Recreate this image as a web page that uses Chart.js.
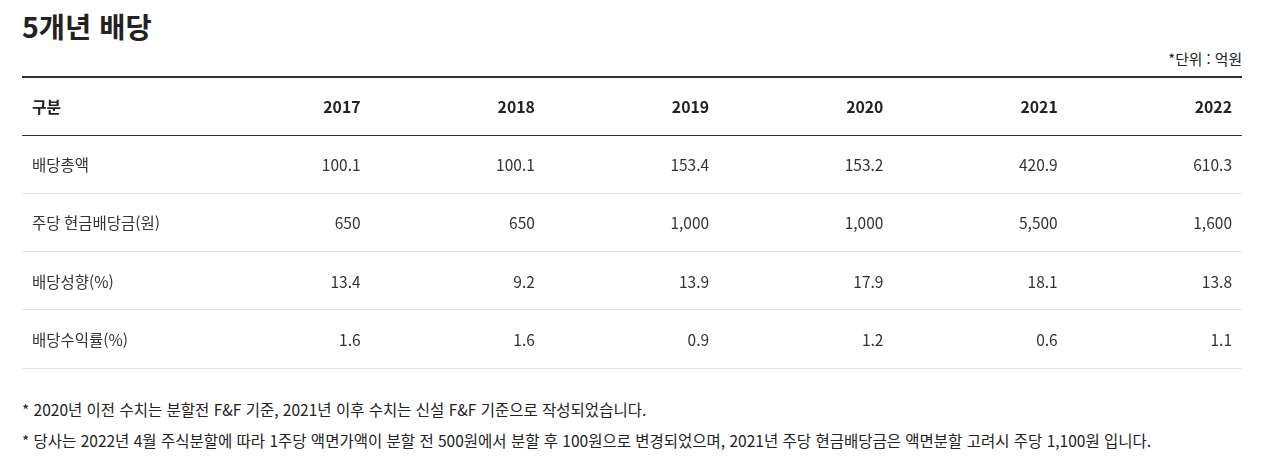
<!DOCTYPE html>
<html lang="ko">
    <head>
        <meta charset="utf-8"/>
        <title>5개년 배당</title>
        <script src="https://cdn.jsdelivr.net/npm/chart.js@4.4.1/dist/chart.umd.min.js"></script>
        <style>
            body { margin: 0; background: #fff; font-family: "Noto Sans CJK KR", "Noto Sans", sans-serif; color: #222; }
            #title { position: absolute; left: 22px; top: 6px; font-size: 28.5px; font-weight: 700; line-height: 40px; margin: 0; }
            #unit { position: absolute; right: 33px; top: 49px; font-size: 14.8px; line-height: 20px; color: #222; }
            .note { position: absolute; left: 22px; font-size: 15.5px; line-height: 20px; color: #222; white-space: nowrap; }
        </style>
    </head>
    <body>
        <h1 id="title">5개년 배당</h1>
        <div id="unit">*단위 : 억원</div>

        <div style="position:absolute; left:22px; top:74px; width:1220px; height:297px;">
            <canvas id="tbl"></canvas>
        </div>

        <div class="note" style="top:399px;">* 2020년 이전 수치는 분할전 F&amp;F 기준, 2021년 이후 수치는 신설 F&amp;F 기준으로 작성되었습니다.</div>
        <div class="note" style="top:430px;">* 당사는 2022년 4월 주식분할에 따라 1주당 액면가액이 분할 전 500원에서 분할 후 100원으로 변경되었으며, 2021년 주당 현금배당금은 액면분할 고려시 주당 1,100원 입니다.</div>

        <script>
            // 표 데이터
            const headCell = '구분';
            const years = ['2017', '2018', '2019', '2020', '2021', '2022'];
            const rowLabels = ['배당총액', '주당 현금배당금(원)', '배당성향(%)', '배당수익률(%)'];
            const totalDividend = [100.1, 100.1, 153.4, 153.2, 420.9, 610.3];
            const dividendPerShare = [650, 650, 1000, 1000, 5500, 1600];
            const payoutRatio = [13.4, 9.2, 13.9, 17.9, 18.1, 13.8];
            const dividendYield = [1.6, 1.6, 0.9, 1.2, 0.6, 1.1];

            const series = [totalDividend, dividendPerShare, payoutRatio, dividendYield];
            const FONT = '"Noto Sans CJK KR", "Noto Sans", sans-serif';

            function fmt(row, v) {
                if (row === 1) return v.toLocaleString('en-US');
                return v.toFixed(1);
            }

            // 셀 글자 그리기
            const cellText = {
                id: 'cellText',
                afterDatasetsDraw(chart) {
                    const ctx = chart.ctx;
                    const xs = chart.scales.x;
                    const ys = chart.scales.y;
                    const band = xs.width / xs.getLabels().length;
                    const left = chart.chartArea.left + 10;

                    ctx.save();
                    ctx.textBaseline = 'middle';
                    ctx.fillStyle = '#222';

                    // 머리행
                    const hy = ys.getPixelForValue(0) + 1;
                    ctx.font = '700 15.8px ' + FONT;
                    xs.getLabels().forEach((lab, i) => {
                        if (i === 0) {
                            ctx.textAlign = 'left';
                            ctx.fillText(lab, left, hy);
                        } else {
                            ctx.textAlign = 'right';
                            ctx.fillText(lab, xs.getPixelForValue(i) + band / 2 - 10, hy);
                        }
                    });

                    // 본문
                    ctx.font = '400 15.5px ' + FONT;
                    ctx.fillStyle = '#333';
                    chart.data.datasets.forEach((ds, r) => {
                        const meta = chart.getDatasetMeta(r);
                        ctx.textAlign = 'left';
                        ctx.fillText(ds.label, left, ys.getPixelForValue(r + 1) + 1);
                        ctx.textAlign = 'right';
                        meta.data.forEach((pt, i) => {
                            ctx.fillText(fmt(r, ds.data[i].v), pt.x + band / 2 - 10, pt.y + 1);
                        });
                    });
                    ctx.restore();
                }
            };

            const ctx = document.getElementById('tbl').getContext('2d');

            new Chart(ctx, {
                type: 'line',
                data: {
                    labels: [headCell].concat(years),
                    datasets: rowLabels.map((label, r) => ({
                        label: label,
                        data: years.map((yr, i) => ({ x: yr, y: label, v: series[r][i] })),
                        showLine: false,
                        pointRadius: 0,
                        pointHoverRadius: 0
                    }))
                },
                options: {
                    responsive: true,
                    maintainAspectRatio: false,
                    animation: false,
                    events: [],
                    layout: { padding: { left: 0, right: 0, top: 3, bottom: 3 } },
                    plugins: { legend: { display: false }, tooltip: { enabled: false } },
                    scales: {
                        x: {
                            type: 'category',
                            offset: true,
                            grid: { display: false, drawTicks: false },
                            border: { display: false },
                            ticks: { display: false }
                        },
                        y: {
                            type: 'category',
                            labels: [headCell].concat(rowLabels),
                            offset: true,
                            grid: {
                                offset: true,
                                drawTicks: false,
                                color: c => (c.index === 0 || c.index === 1) ? '#333' : '#e3e3e3',
                                lineWidth: c => c.index === 0 ? 2 : 1
                            },
                            border: { display: false },
                            ticks: { display: false }
                        }
                    }
                },
                plugins: [cellText]
            });
        </script>
    </body>
</html>
